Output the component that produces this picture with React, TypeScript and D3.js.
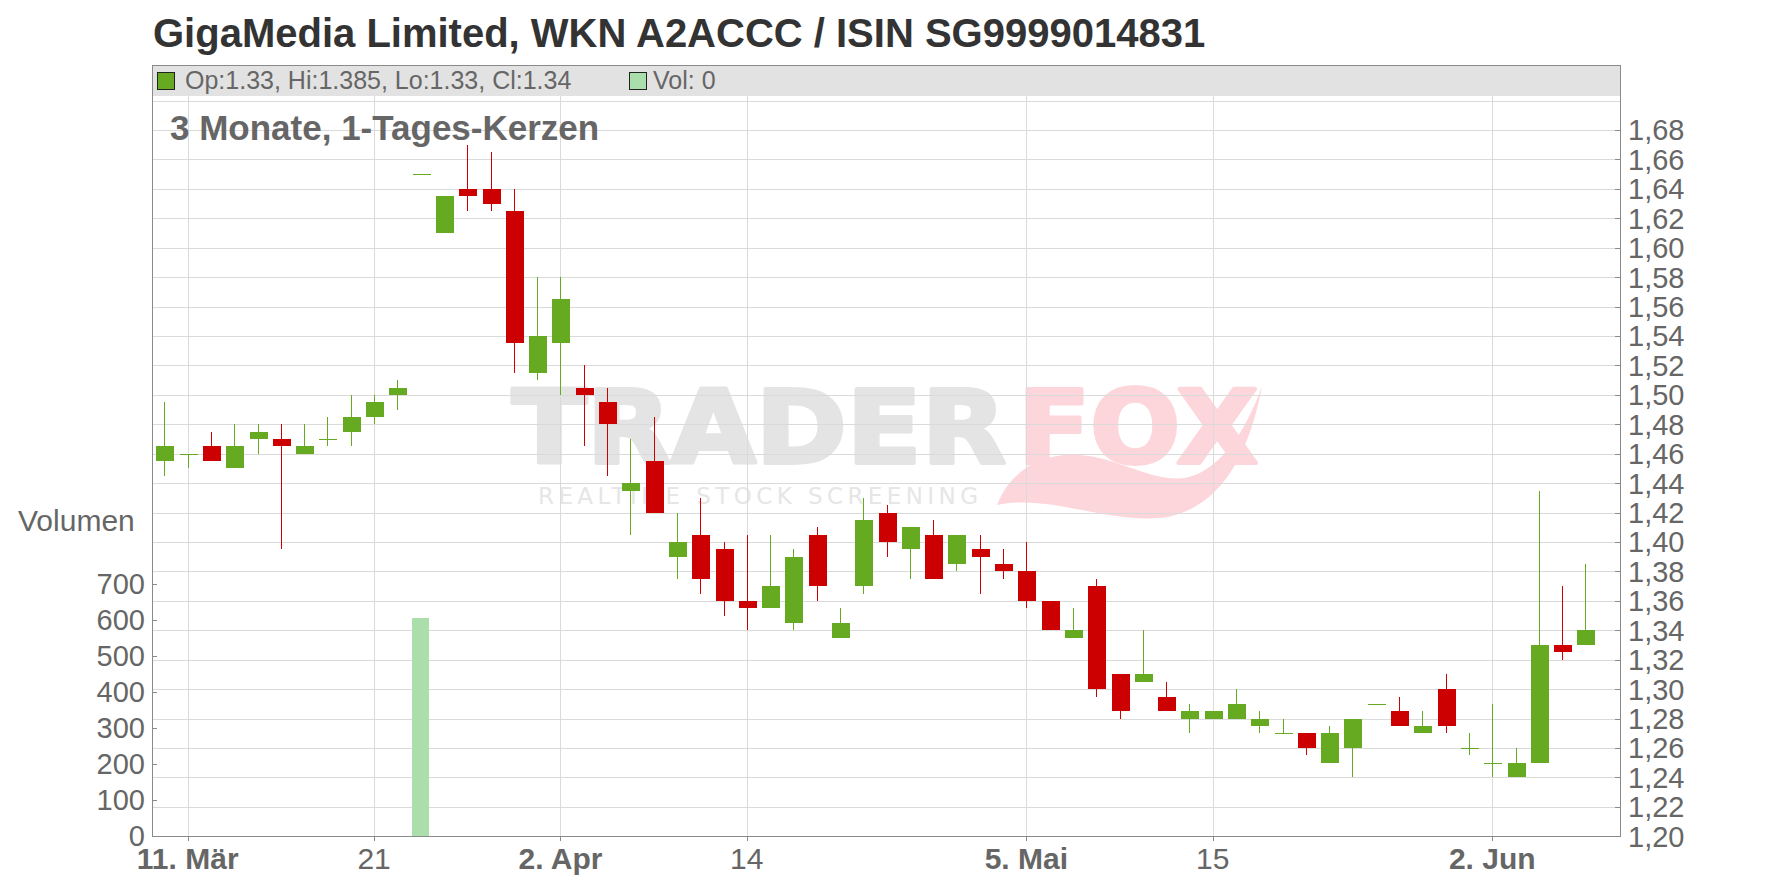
import React from "react";
import * as d3 from "d3";

const opens = [1.455,1.46,1.465,1.45,1.47,1.47,1.46,1.47,1.475,1.485,1.50,1.65,1.61,1.64,1.64,1.625,1.515,1.535,1.505,1.495,1.435,1.455,1.39,1.405,1.395,1.36,1.355,1.345,1.405,1.335,1.37,1.42,1.395,1.405,1.385,1.395,1.385,1.38,1.36,1.335,1.37,1.31,1.305,1.295,1.28,1.28,1.28,1.275,1.27,1.27,1.25,1.26,1.29,1.285,1.27,1.30,1.26,1.25,1.24,1.25,1.33,1.33];
const highs = [1.495,1.46,1.475,1.48,1.48,1.48,1.48,1.485,1.50,1.50,1.51,1.65,1.635,1.67,1.665,1.64,1.58,1.58,1.52,1.505,1.47,1.485,1.42,1.43,1.40,1.405,1.405,1.395,1.41,1.355,1.43,1.425,1.41,1.415,1.405,1.405,1.395,1.40,1.36,1.355,1.375,1.31,1.34,1.305,1.29,1.285,1.30,1.285,1.28,1.27,1.275,1.28,1.29,1.295,1.285,1.31,1.27,1.29,1.26,1.435,1.37,1.385];
const lows = [1.445,1.45,1.455,1.45,1.46,1.395,1.46,1.465,1.465,1.48,1.49,1.65,1.61,1.625,1.625,1.515,1.51,1.50,1.465,1.445,1.405,1.42,1.375,1.365,1.35,1.34,1.355,1.34,1.36,1.335,1.365,1.39,1.375,1.375,1.38,1.365,1.375,1.355,1.34,1.335,1.295,1.28,1.305,1.285,1.27,1.28,1.28,1.27,1.27,1.255,1.25,1.24,1.29,1.275,1.27,1.27,1.255,1.24,1.24,1.25,1.32,1.33];
const closes = [1.465,1.46,1.455,1.465,1.475,1.465,1.465,1.47,1.485,1.495,1.505,1.65,1.635,1.635,1.63,1.535,1.54,1.565,1.50,1.48,1.44,1.42,1.40,1.375,1.36,1.355,1.37,1.39,1.37,1.345,1.415,1.40,1.41,1.375,1.405,1.39,1.38,1.36,1.34,1.34,1.30,1.285,1.31,1.285,1.285,1.285,1.29,1.28,1.27,1.26,1.27,1.28,1.29,1.275,1.275,1.275,1.26,1.25,1.25,1.33,1.325,1.34];
const volumes = [0,0,0,0,0,0,0,0,0,0,0,605,0,0,0,0,0,0,0,0,0,0,0,0,0,0,0,0,0,0,0,0,0,0,0,0,0,0,0,0,0,0,0,0,0,0,0,0,0,0,0,0,0,0,0,0,0,0,0,0,0,0];

const tickIndex = [1, 9, 17, 25, 37, 45, 57];
const tickLabels = ["11. Mär", "21", "2. Apr", "14", "5. Mai", "15", "2. Jun"];
const tickBold = [true, false, true, false, true, false, true];

const priceTicks = d3.range(0, 25).map((i) => +(1.2 + i * 0.02).toFixed(2));
const priceGrid = d3.range(0, 26).map((i) => +(1.2 + i * 0.02).toFixed(2));
const volumeTicks = [0, 100, 200, 300, 400, 500, 600, 700];

const GREEN = "#66aa22";
const RED = "#cc0000";
const VOLC = "#aadeaa";
const GRID = "#dadada";
const AXIS = "#8a8a8a";
const LABEL = "#666666";
const FONT = "'Liberation Sans', Arial, sans-serif";

export default function App() {
  const W = 1776, H = 888;
  const left = 152, right = 1620, top = 65, bottom = 836;
  const x = d3.scaleLinear().domain([0, 61]).range([164.4, 164.4 + 61 * 23.296]);
  const yP = d3.scaleLinear().domain([1.2, 1.68]).range([836.3, 130]);
  const yV = d3.scaleLinear().domain([0, 700]).range([836, 584]);
  const bodyW = 18;
  const fmt = (v: number) => v.toFixed(2).replace(".", ",");
  const n = closes.length;
  const last = n - 1;
  const legendText = `Op:${opens[last]}, Hi:${highs[last]}, Lo:${lows[last]}, Cl:${closes[last]}`;

  return (
    <svg width={W} height={H} style={{ position: "absolute", left: 0, top: 0, background: "#fff" }} xmlns="http://www.w3.org/2000/svg">
      <rect x={0} y={0} width={W} height={H} fill="#fff" />
      {/* watermark */}
      <g>
        <text x={512} y={463} fontFamily="'DejaVu Sans', sans-serif" fontWeight="bold" fontSize={102}
          textLength={494} lengthAdjust="spacingAndGlyphs" fill="#e4e4e4" stroke="#e4e4e4" strokeWidth={4} strokeLinejoin="round">TRADER</text>
        <text x={1018} y={463} fontFamily="'DejaVu Sans', sans-serif" fontWeight="bold" fontSize={102}
          textLength={240} lengthAdjust="spacingAndGlyphs" fill="#fdd6db" stroke="#fdd6db" strokeWidth={4} strokeLinejoin="round">FOX</text>
        <path d="M 997 505 C 1010 472, 1040 452, 1080 455 C 1120 458, 1150 482, 1185 478 C 1225 470, 1250 420, 1262 386 C 1248 462, 1215 512, 1160 518 C 1100 522, 1050 494, 997 505 Z"
          fill="#fdd6db" />
        <text x={538} y={504} fontFamily="'DejaVu Sans', sans-serif" fontSize={23}
          textLength={440} lengthAdjust="spacing" fill="#e6e6e6">REALTIME STOCK SCREENING</text>
      </g>
      {/* grid */}
      <g shapeRendering="crispEdges">
        {priceGrid.map((p) => (
          <line key={"g" + p} x1={left} x2={right} y1={Math.round(yP(p)) + 0.5} y2={Math.round(yP(p)) + 0.5} stroke={GRID} strokeWidth={1} />
        ))}
        {tickIndex.map((t) => (
          <line key={"v" + t} x1={Math.round(x(t)) + 0.5} x2={Math.round(x(t)) + 0.5} y1={top} y2={bottom} stroke={GRID} strokeWidth={1} />
        ))}
      </g>
      {/* subtitle */}
      <text x={170} y={140} fontFamily={FONT} fontWeight="bold" fontSize={35} fill={LABEL}>3 Monate, 1-Tages-Kerzen</text>
      {/* volume */}
      <g shapeRendering="crispEdges">
        {volumes.map((v, i) => v > 0 ? (
          <rect key={"vol" + i} x={x(i) - 8.5} width={17} y={yV(v)} height={yV(0) - yV(v)} fill={VOLC} />
        ) : null)}
      </g>
      {/* candles */}
      <g shapeRendering="crispEdges">
        {closes.map((c, i) => {
          const o = opens[i];
          const col = c >= o ? GREEN : RED;
          const cx = Math.round(x(i));
          const yt = yP(Math.max(o, c));
          const yb = yP(Math.min(o, c));
          return (
            <g key={"c" + i}>
              <line x1={cx + 0.5} x2={cx + 0.5} y1={yP(highs[i])} y2={yP(lows[i])} stroke={col} strokeWidth={1} />
              <rect x={cx - bodyW / 2 + 0.5} width={bodyW} y={yt} height={Math.max(1, yb - yt)} fill={col} />
            </g>
          );
        })}
      </g>
      {/* legend band */}
      <rect x={left} y={top} width={right - left} height={31} fill="#e2e2e2" />
      <line x1={left} x2={right} y1={top + 0.5} y2={top + 0.5} stroke={AXIS} strokeWidth={1} />
      <rect x={157.5} y={72.5} width={17} height={17} fill={GREEN} stroke="#222" strokeWidth={1} />
      <text x={185} y={89} fontFamily={FONT} fontSize={25} fill={LABEL}>{legendText}</text>
      <rect x={629.5} y={72.5} width={17} height={17} fill={VOLC} stroke="#222" strokeWidth={1} />
      <text x={653} y={89} fontFamily={FONT} fontSize={25} fill={LABEL}>{`Vol: ${volumes[last]}`}</text>
      {/* axes */}
      <g shapeRendering="crispEdges">
        <line x1={left + 0.5} x2={left + 0.5} y1={top} y2={bottom} stroke={AXIS} strokeWidth={1} />
        <line x1={right + 0.5} x2={right + 0.5} y1={top} y2={bottom + 1} stroke={AXIS} strokeWidth={1} />
        <line x1={left} x2={right + 1} y1={bottom + 0.5} y2={bottom + 0.5} stroke={AXIS} strokeWidth={1} />
        {priceTicks.map((p) => (
          <line key={"pt" + p} x1={right - 5} x2={right} y1={Math.round(yP(p)) + 0.5} y2={Math.round(yP(p)) + 0.5} stroke={AXIS} />
        ))}
        {volumeTicks.map((v) => (
          <line key={"vt" + v} x1={left} x2={left + 5} y1={Math.round(yV(v)) + 0.5} y2={Math.round(yV(v)) + 0.5} stroke={AXIS} />
        ))}
        {tickIndex.map((t) => (
          <line key={"xt" + t} x1={Math.round(x(t)) + 0.5} x2={Math.round(x(t)) + 0.5} y1={bottom} y2={bottom + 5} stroke={AXIS} />
        ))}
      </g>
      {priceTicks.map((p) => (
        <text key={"pl" + p} x={1628} y={yP(p)} dy="0.36em" fontFamily={FONT} fontSize={29} fill={LABEL}>{fmt(p)}</text>
      ))}
      {volumeTicks.map((v) => (
        <text key={"vl" + v} x={145} y={yV(v)} dy="0.36em" textAnchor="end" fontFamily={FONT} fontSize={29} fill={LABEL}>{v}</text>
      ))}
      <text x={18} y={531} fontFamily={FONT} fontSize={30} fill={LABEL}>Volumen</text>
      {tickIndex.map((t, k) => (
        <text key={"xl" + t} x={x(t)} y={869} textAnchor="middle" fontFamily={FONT} fontSize={30}
          fontWeight={tickBold[k] ? "bold" : "normal"} fill={LABEL}>{tickLabels[k]}</text>
      ))}
      {/* title */}
      <text x={153} y={47} fontFamily={FONT} fontWeight="bold" fontSize={40} fill="#333">GigaMedia Limited, WKN A2ACCC / ISIN SG9999014831</text>
    </svg>
  );
}
